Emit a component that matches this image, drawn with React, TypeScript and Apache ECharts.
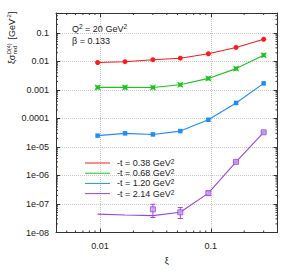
import React, { useEffect, useRef } from "react";
import * as echarts from "echarts";

const xi = [0.0095, 0.0168, 0.03, 0.053, 0.095, 0.169, 0.3];
const red = [0.0092, 0.0098, 0.0115, 0.013, 0.0186, 0.031, 0.06];
const green = [0.00123, 0.00123, 0.00122, 0.00153, 0.00254, 0.0056, 0.0166];
const blue = [2.5e-5, 3.0e-5, 2.75e-5, 3.6e-5, 9.0e-5, 3.5e-4, 1.7e-3];
const purpleLine = [4.4e-8, 4.1e-8, 3.9e-8, 5.1e-8, 2.4e-7, 3.0e-6, 3.27e-5];
const purpleXi = [0.03, 0.053, 0.095, 0.169, 0.3];
const purplePts = [6.5e-8, 5.1e-8, 2.4e-7, 3.0e-6, 3.27e-5];
const purpleLo = [3.35e-8, 3.1e-8, 2.0e-7, 2.8e-6, 3.1e-5];
const purpleHi = [9.8e-8, 7.5e-8, 2.8e-7, 3.2e-6, 3.45e-5];
const legendNames = ["-t = 0.38 GeV²", "-t = 0.68 GeV²", "-t = 1.20 GeV²", "-t = 2.14 GeV²"];
const yLabels = ["0.1", "0.01", "0.001", "0.0001", "1e-05", "1e-06", "1e-07", "1e-08"];
const xLabels = ["0.01", "0.1"];

const C_RED = "#ff1a1a";
const C_GREEN = "#1ec41e";
const C_BLUE = "#1e8cff";
const C_PURPLE = "#9b45e0";
const FONT = "Liberation Sans";

const X_MIN = 0.004, X_MAX = 0.4, Y_MIN = 1e-8, Y_MAX = 0.5;

function minorTicks() {
  const out: number[][] = [];
  const xs = [0.005, 0.006, 0.007, 0.008, 0.009, 0.02, 0.03, 0.04, 0.05, 0.06, 0.07, 0.08, 0.09, 0.2, 0.3];
  xs.forEach((v) => out.push([v, 1e-4, 0]));
  for (let d = -8; d <= -1; d++) {
    for (let k = 2; k <= 9; k++) {
      const v = Number((k * Math.pow(10, d)).toPrecision(3));
      if (v < Y_MAX) out.push([0.01, v, 1]);
    }
  }
  return out;
}

function fmtY(v: number) {
  const e = Math.round(Math.log10(v));
  if (Math.abs(Math.log10(v) - e) > 1e-6) return "";
  const idx = -1 - e;
  return yLabels[idx] ?? "";
}
function fmtX(v: number) {
  const e = Math.round(Math.log10(v));
  if (Math.abs(Math.log10(v) - e) > 1e-6) return "";
  const idx = e + 2;
  return xLabels[idx] ?? "";
}

export default function App() {
  const ref = useRef<HTMLDivElement>(null);
  useEffect(() => {
    const chart = echarts.init(ref.current!, undefined, { renderer: "svg" });
    const axisLine = { show: true, lineStyle: { color: "#333", width: 1 } };
    const tick = { show: true, inside: true, length: 4, lineStyle: { color: "#333", width: 1 } };
    const split = { show: true, lineStyle: { color: "#c8c8c8", type: "dotted", width: 1 } };
    const lineSeries = (name: string, data: number[], color: string, symbol: string, size: number) => ({
      name,
      type: "line",
      data: xi.map((x, i) => [x, data[i]]),
      xAxisIndex: 0,
      yAxisIndex: 0,
      lineStyle: { color, width: 1.1 },
      itemStyle: { color },
      symbol,
      symbolSize: size,
      showSymbol: symbol !== "none",
      z: 3,
    });
    const sup = { fontSize: 6.5, fontFamily: FONT, color: "#222", verticalAlign: "top", lineHeight: 10, padding: [0, 0, 0, 0] };
    chart.setOption({
      animation: false,
      grid: { left: 56, right: 15.5, top: 13, bottom: 38.5 },
      xAxis: [
        {
          type: "log", min: X_MIN, max: X_MAX, position: "bottom",
          name: "ξ", nameLocation: "middle", nameGap: 24,
          nameTextStyle: { fontFamily: FONT, fontSize: 9, color: "#222" },
          axisLine, axisTick: tick, splitLine: split,
          axisLabel: { formatter: fmtX, fontFamily: FONT, fontSize: 9, color: "#222", margin: 9 },
        },
        {
          type: "log", min: X_MIN, max: X_MAX, position: "top",
          axisLine, axisTick: tick, splitLine: { show: false }, axisLabel: { show: false },
        },
      ],
      yAxis: [
        {
          type: "log", min: Y_MIN, max: Y_MAX, position: "left",
          axisLine, axisTick: tick, splitLine: split,
          axisLabel: { formatter: fmtY, fontFamily: FONT, fontSize: 9, color: "#222", margin: 7 },
        },
        {
          type: "log", min: Y_MIN, max: Y_MAX, position: "right",
          axisLine, axisTick: tick, splitLine: { show: false }, axisLabel: { show: false },
        },
      ],
      legend: {
        orient: "vertical",
        left: 80,
        top: 153,
        itemWidth: 25,
        itemHeight: 1,
        itemGap: 0.7,
        data: legendNames.map((n) => ({ name: n, icon: "rect" })),
        formatter: (n: string) => "{a|" + n.replace("²", "") + "}{s|2}",
        textStyle: {
          padding: [0, 0, 0, 2],
          rich: {
            a: { fontSize: 9, fontFamily: FONT, color: "#222", lineHeight: 10 },
            s: sup,
          },
        },
        selectedMode: false,
      },
      series: [
        lineSeries(legendNames[0], red, C_RED, "circle", 5),
        lineSeries(legendNames[1], green, C_GREEN, "path://M0 0L3 1.2L6 0L4.8 3L6 6L3 4.8L0 6L1.2 3Z", 6),
        lineSeries(legendNames[2], blue, C_BLUE, "rect", 4.5),
        lineSeries(legendNames[3], purpleLine, C_PURPLE, "none", 0),
        {
          type: "custom",
          xAxisIndex: 0,
          yAxisIndex: 0,
          z: 4,
          data: purpleXi.map((x, i) => [x, purpleLo[i], purpleHi[i]]),
          renderItem: (params: any, api: any) => {
            const lo = api.coord([api.value(0), api.value(1)]);
            const hi = api.coord([api.value(0), api.value(2)]);
            const st = { stroke: C_PURPLE, lineWidth: 1 };
            return {
              type: "group",
              children: [
                { type: "line", shape: { x1: lo[0], y1: lo[1], x2: hi[0], y2: hi[1] }, style: st },
                { type: "line", shape: { x1: lo[0] - 2.5, y1: lo[1], x2: lo[0] + 2.5, y2: lo[1] }, style: st },
                { type: "line", shape: { x1: hi[0] - 2.5, y1: hi[1], x2: hi[0] + 2.5, y2: hi[1] }, style: st },
              ],
            };
          },
        },
        {
          type: "scatter",
          xAxisIndex: 0,
          yAxisIndex: 0,
          z: 5,
          data: purpleXi.map((x, i) => [x, purplePts[i]]),
          symbol: "rect",
          symbolSize: 5,
          itemStyle: { color: "#c9a2ef", borderColor: C_PURPLE, borderWidth: 1 },
        },
        {
          type: "custom",
          xAxisIndex: 0,
          yAxisIndex: 0,
          z: 6,
          silent: true,
          data: minorTicks(),
          renderItem: (params: any, api: any) => {
            const cs = params.coordSys;
            const kind = api.value(2);
            const p = api.coord([api.value(0), api.value(1)]);
            const st = { stroke: "#333", lineWidth: 1 };
            const L = 2;
            if (kind === 0) {
              return {
                type: "group",
                children: [
                  { type: "line", shape: { x1: p[0], y1: cs.y + cs.height, x2: p[0], y2: cs.y + cs.height - L }, style: st },
                  { type: "line", shape: { x1: p[0], y1: cs.y, x2: p[0], y2: cs.y + L }, style: st },
                ],
              };
            }
            return {
              type: "group",
              children: [
                { type: "line", shape: { x1: cs.x, y1: p[1], x2: cs.x + L, y2: p[1] }, style: st },
                { type: "line", shape: { x1: cs.x + cs.width, y1: p[1], x2: cs.x + cs.width - L, y2: p[1] }, style: st },
              ],
            };
          },
        },
      ],
      graphic: [
        {
          type: "text", left: 72, top: 23,
          style: {
            text: "{a|Q}{s|2}{a| = 20 GeV}{s|2}",
            rich: { a: { fontSize: 9, fontFamily: FONT, fill: "#222", lineHeight: 11 }, s: { ...sup, fill: "#222" } },
          },
        },
        {
          type: "text", left: 72, top: 36,
          style: { text: "β = 0.133", fontSize: 9, fontFamily: FONT, fill: "#222" },
        },
        {
          type: "group", x: 12, y: 64, rotation: Math.PI / 2,
          children: [
            { type: "text", x: 0, y: 0, style: { text: "ξσ", fontSize: 9, fontFamily: FONT, fill: "#222", verticalAlign: "middle" } },
            { type: "text", x: 10, y: -3.5, style: { text: "D(4)", fontSize: 5.5, fontFamily: FONT, fill: "#222", verticalAlign: "middle" } },
            { type: "text", x: 10, y: 3, style: { text: "red", fontSize: 5.5, fontFamily: FONT, fill: "#222", verticalAlign: "middle" } },
            { type: "text", x: 22, y: 0, style: { text: " [GeV", fontSize: 9, fontFamily: FONT, fill: "#222", verticalAlign: "middle" } },
            { type: "text", x: 44.5, y: -3, style: { text: "-2", fontSize: 6, fontFamily: FONT, fill: "#222", verticalAlign: "middle" } },
            { type: "text", x: 50, y: 0, style: { text: "]", fontSize: 9, fontFamily: FONT, fill: "#222", verticalAlign: "middle" } },
          ],
        },
      ],
    });
    return () => chart.dispose();
  }, []);
  return <div ref={ref} style={{ width: 293, height: 271, position: "absolute", left: 0, top: 0 }} />;
}
